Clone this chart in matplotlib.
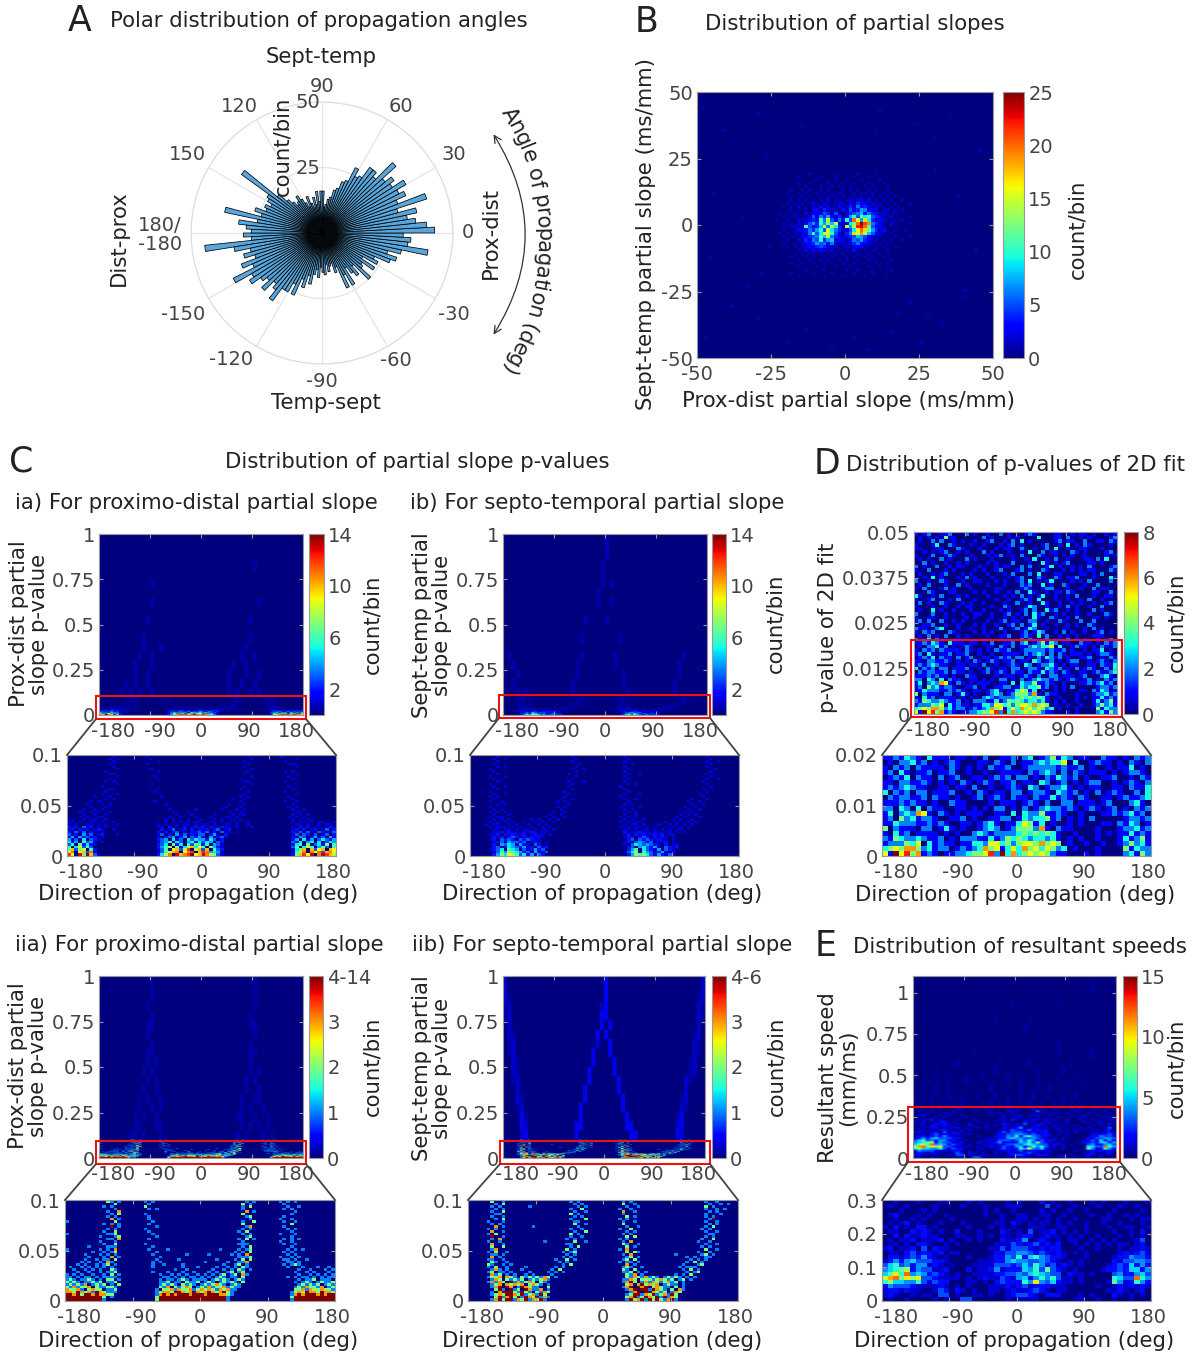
import numpy as np
import matplotlib
matplotlib.use('Agg')
import matplotlib.pyplot as plt
from matplotlib.patches import Rectangle, FancyArrowPatch
from matplotlib.textpath import TextToPath
from matplotlib.font_manager import FontProperties
from matplotlib.transforms import ScaledTranslation

W, H = 1199, 1355
FS = 15.3
TS = 14
GREY = '#444444'
TICK = '#999999'

# polar histogram, 3 deg bins from -180 to 180 (count/bin)
polar_counts = [30, 27, 45, 34, 28, 31, 27, 33, 29, 38,
                31, 33, 29, 27, 31, 26, 28, 32, 26, 26,
                22, 26, 19, 22, 17, 20, 16, 14, 17, 13,
                15, 16, 12, 15, 13, 12, 16, 14, 23, 18,
                23, 16, 19, 21, 17, 25, 20, 19, 24, 18,
                24, 22, 28, 30, 26, 31, 41, 33, 34, 31,
                43, 40, 36, 33, 37, 30, 42, 31, 35, 33,
                37, 32, 34, 31, 38, 29, 31, 31, 26, 25,
                28, 22, 21, 18, 17, 14, 13, 11, 10, 16,
                16, 12, 16, 11, 14, 10, 12, 15, 11, 13,
                15, 17, 15, 14, 16, 18, 22, 38, 25, 24,
                22, 24, 23, 27, 24, 38, 25, 32, 29, 27]

# panel B, central block of the slope histogram (base 36 digits, top row first)
slopes_centre = [
    "0000000000100000001000010000100000000000",
    "0000000100000100010000100010000100000000",
    "0000000000001000010010001000010000000000",
    "0000000100100001000100100010001000000000",
    "0000000001000100101001000101000100000000",
    "0000010010100101000101010010100100000000",
    "0000100101001010101100101101001010000000",
    "0000010010100101110101101011010101000000",
    "0000010101010102011012122120101010010000",
    "0000101010121021012203142312110101000100",
    "0001010201021312113124263431211010100000",
    "0000010101033142211315347632301201010000",
    "0010101102132354152024568364312101000000",
    "0001011010252647324127a5c9a5421120100100",
    "0100100212343a6f5363a5kf7h94232101010000",
    "0001010213574a7c8f3129ckplj6421021000100",
    "000101212b5348f6e941f7emnkb5331010100000",
    "0001001323647a5f9642259gkhc7423101001000",
    "00101011326a59ffa53146hfje85321010000000",
    "0001011033456b8e642234587532110101000100",
    "0000100214365a47823213657431201010010000",
    "0001001023347563621212463321010100000000",
    "0000101012324543120121233110101001000000",
    "0000000102132321201010310101100100000000",
    "0000001010110101010101011010010100000000",
    "0000010001010010110010100101001000000000",
    "0000000100100101001010010010100010000000",
    "0000010010010010100100101000100100000000",
    "0000000100001000010001000010010000000000",
    "0000000001000010000010010001000010000000",
    "0000010000010000100000100001000000000000",
    "0000000100000010000100000100000100000000"]
# single counts far from the centre
far_x = [-48, -41, -37, -30, -27, -44, -35, -26, 12, 24, 30, 35, 45, 28, 40, -46, -38, -30, -20, -13,
         -5, 3, 8, 18, 26, 33, 41, -40, -33, -28, 22, 31, 38, -47, 44, -15, 10, 15]
far_y = [44, 36, 30, 42, 25, 12, 3, -8, 43, 38, 33, 40, 28, -35, -27, -12, -31, -36, -44, -39,
         -46, -42, -47, -33, -44, -37, -25, 24, -23, -18, -29, 21, 11, -42, -10, 37, 35, -41]

# zoomed p-value histograms, 72 columns (5 deg), 40 rows (0.0025), top row first
ia_low = [
    "000000000000 100000000100 000000000000 000000000000 100000000100 000000000000",
    "000000000001 010000000010 000000000000 000000000000 010000000000 010000000000",
    "000000000000 100000000000 100000000000 000000000001 000000000010 000000000000",
    "000000000001 000000000100 000000000000 000000000000 100000000001 100000000000",
    "000000000000 100000000000 000000000000 000000000001 000000000000 010000000000",
    "000000000000 010000000010 000000000000 000000000000 010000000000 000000000000",
    "000000000010 000000000000 100000000000 000000000000 100000000010 100000000000",
    "000000000001 100000000000 000000000000 000000000001 000000000000 010000000000",
    "000000000000 010000000001 000000000000 000000000000 010000000001 000000000000",
    "000000000001 000000000000 100000000000 000000000010 000000000000 100000000000",
    "000000000010 100000000000 000000000000 000000000001 100000000010 000000000000",
    "000000000000 010000000010 000000000000 000000000000 010000000000 010000000000",
    "000000000100 000000000000 000000000000 000000000001 000000000001 000000000000",
    "000000000001 100000000000 100000000000 000000000010 000000000000 100000000000",
    "000000000010 000000000001 000000000000 000000000000 100000000010 000000000000",
    "000000000100 010000000000 000000000000 000000000001 000000000000 010000000000",
    "000000010001 000000000000 010000000000 000000000010 100000000001 000000000000",
    "000000000010 100000000000 000000000000 000000001001 000000000000 100000000000",
    "000000101000 000000000001 000000000000 000000000010 000000000010 010000000000",
    "000001000101 000000000000 001000000000 000000010001 000000000000 100000000000",
    "000000100010 000000000000 000000000000 000000100010 000000000001 010000000000",
    "000010010100 000000000000 000100000010 000001000101 000000000000 100100000000",
    "000100101001 000000000000 000010001000 000000010010 000000000000 011000000000",
    "000010010010 000000000000 000001000100 000100001011 000000000000 101010000000",
    "000101001100 000000000000 000100100010 001000110100 000000000001 010100000000",
    "010010110010 000000000000 001010001001 000101001010 000000000000 101011000000",
    "110100110100 100000000000 001010101011 001101010100 100000000000 101101011001",
    "101001101010 010000000000 101001011010 110100110100 100000000000 011010010110",
    "212031201010 000000000000 110201020121 202112110100 010000000000 102120110121",
    "120212012100 100000000000 020130120202 120230120000 000000000000 120201201302",
    "203130210100 000000000000 202023010123 130203110100 000000000000 213031032013",
    "312041301200 010000000000 130204130213 302410200000 000000000000 130320301302",
    "240423120100 000000000000 102340240324 204123100000 000000000000 204302413041",
    "413150321000 000000000000 234052305354 425302000000 000000000000 240514035314",
    "524063410100 000000000000 134605304625 354032000000 000000000000 325045150354",
    "360725210000 000000000000 235072506376 260431000000 000000000000 256070352706",
    "605836300000 000000000000 246807158a59 607421000000 000000000000 360586047306",
    "7a3780620000 000000000000 13609a38c08a 3a0632000000 000000000000 157a0a39a0a9",
    "8b09a3b10000 000000000000 1368ab09bc0a cb4541000000 000000000000 168b0b9b3ab9",
    "c90d7ea31000 000000000000 258b0dabce9a db8731000000 000000000000 27ac9d0bdca8"]
ib_low = [
    "000000010000 000000000000 000100000000 000001000000 000000000000 000100000000",
    "000000100100 000000000000 000010000000 000000100000 000000000000 000010000000",
    "000000010000 000000000000 000100000000 000001000000 000000000000 000100100000",
    "000000100000 000000000000 000001000000 000000010000 000000000000 000010000000",
    "000000010100 000000000000 000010000000 000001000000 000000000000 000100000000",
    "000001000000 000000000000 000100100000 000000100000 000000000000 000001000000",
    "000000100000 000000000000 000010000000 000001000000 000000000000 000010000000",
    "000000010000 000000000000 001000000000 000000100100 000000000000 000100000000",
    "000001000100 000000000000 000010000000 000001000000 000000000000 000010000000",
    "000000100000 000000000000 000100000000 000000100000 000000000000 000100100000",
    "000000010000 000000000000 001000100000 000001000000 000000000000 001000000000",
    "000001000000 000000000000 000100000000 000000101000 000000000000 000100000000",
    "000000100100 000000000000 001000000000 000010000000 000000000000 000010000000",
    "000000010000 000000000000 000100000000 000001000000 000000000000 001000000000",
    "000001000000 000000000000 010000000000 000000100000 000000000000 000100000000",
    "000000100100 000000000000 001000000000 000001000100 000000000000 010000000000",
    "000001010000 000000000000 010000000000 000010000000 000000000000 001000000000",
    "000000100000 000000000000 100100000000 000001001000 000000000001 000100000000",
    "000001001000 000000000001 010000000000 000000100000 000000000010 010000000000",
    "000000010100 000000000000 001000000000 000001010000 000000000001 001000000000",
    "000001000000 000000000001 010000000000 000010000100 000000000100 100000000000",
    "000000101000 000000000000 100000000000 000001010000 000000000010 010000000000",
    "000001010100 000000000010 010000000000 000000101000 000000000101 000000000000",
    "000000100010 000000000100 100000000000 000001001000 000000001010 100000000000",
    "000001011000 000000001010 010000000000 000010101000 000000010100 010000000000",
    "000000101010 000010100101 000000000000 000001010010 000000101001 000000000000",
    "000001010101 001001010010 000000000000 000010101100 000010010010 100000000000",
    "000010110010 100100101000 000000000000 000001011010 001001010101 000000000000",
    "000001011101 010010010100 000000000000 000010101101 010010101010 000000000000",
    "000000110110 101101011010 000000000000 000001101011 010101011000 000000000000",
    "000000112021 101121011000 000000000000 000002011211 011011010100 000000000000",
    "000001120212 112012110100 000000000000 000001202121 121201100000 000000000000",
    "000000212023 202121210000 000000000000 000001220232 021210100000 000000000000",
    "000001203232 032321100000 000000000000 000000230323 212110100000 000000000000",
    "000000123043 323012101000 000000000000 000001203432 301120100000 000000000000",
    "000000204354 142103201000 000000000000 000001035434 321020110000 000000000000",
    "000000230254 324120312000 000000000000 000000230453 241032120000 000000000000",
    "000001235065 403124230000 000000000000 000000246053 214032100000 000000000000",
    "000000136476 542304123000 000000000000 000001357064 312410200000 000000000000",
    "000000247598 635241320000 000000000000 000000247675 314213100000 000000000000"]
iia_low = [
    "000000000002 101000000101 000000000000 000000000000 101000000101 010000000000",
    "000000000000 020000000010 000000000000 000000000002 010000000010 000000000000",
    "000000000010 100000000200 000000000000 000000000001 020000000001 001000000000",
    "000000000000 010000000010 100000000000 000000000001 000000000010 100000000000",
    "000000000001 003000000000 000000000000 000000000000 301000000000 010000000000",
    "000000000000 102000000100 000000000000 000000000002 000000000000 100000000000",
    "000000000001 010000000010 000000000000 000000000000 120000000010 000000000000",
    "000000000000 301000000010 000000000000 000000000000 010000000100 100000000000",
    "100000000000 020000000001 000000000000 000000000001 002000000010 010000000000",
    "000000000010 101000000010 000000000000 000000000002 000000000000 200000000000",
    "000000000000 401000000000 100000000000 000000000000 130000000010 000000000000",
    "000000000001 010000000100 000000000000 000000000001 010000000001 010000000000",
    "000000000010 020000000010 000000000000 000000000010 200000000000 100000000000",
    "100000000001 120000000001 000000000000 000000000001 010000000100 010000000000",
    "000000000100 012000000000 100000000000 000000000000 120000000000 100000000000",
    "000000000001 103000000010 000000000000 000000000010 201000000010 101000000000",
    "000000000100 010000000000 000000000000 000000000001 000000000100 100000000000",
    "000000000010 020000000100 000000000000 000000000011 100000000010 010000000000",
    "000000100001 110000000001 000000000000 000000000001 020000000000 100000000000",
    "100000000101 030000000010 000100000000 000001000010 120000000001 010100000000",
    "000000010010 120000000000 100000000000 000000000101 020000000010 100000000000",
    "000001000101 010000000001 000000001000 001000001010 300000000001 010000000000",
    "000000100010 301000000000 010000000000 000000000011 120000000100 101000000000",
    "000001001011 020000000000 100000100000 000010000102 020000000011 010010000000",
    "000010100103 100000000001 010000000000 010000010011 300000000001 101000000000",
    "000101001012 010000000001 001000010000 000000100120 100000000010 121000000000",
    "010010101010 100000000001 000000010001 000010010102 100000000001 000100010010",
    "001001010100 210000000000 000001001000 000100101021 010000000000 001001000101",
    "000100100101 120000000001 000100010010 001010012012 000000000000 010010100010",
    "101010010010 201000000000 010010101001 010101201203 100000000000 001001010101",
    "110101101011 110000000000 001101010110 101012101102 000000000001 010110101011",
    "121011210102 201000000000 010110121011 110121210121 000000000000 001011201110",
    "212101121201 120000000000 011201102112 012101212102 000000000000 010121012112",
    "121213012120 102000000000 012121021210 121232101210 000000000000 001212120121",
    "213122302112 210000000000 021302123201 213122312110 000000000000 012132213012",
    "322310232201 120000000000 102231322312 323213231100 000000000000 022313223221",
    "332432314321 110000000000 123324432343 234323421000 000000000000 123243324332",
    "443524435332 200000000000 135343544354 435443321000 000000000000 134344435345",
    "554645546420 100000000000 245465546564 565645510000 000000000000 244564545646",
    "868a5978a510 000000000000 257a89a8a79a 8a9a77410000 000000000000 156a7898a879"]
iib_low = [
    "000000200100 000000000000 000101000000 000001010000 000000000000 000100100000",
    "000000010200 000000000000 000010100000 000002001000 000000000000 000010010100",
    "000000101000 000010000000 000001010000 000000100100 000000000000 000201000000",
    "000000010100 000000000000 000100200000 000010010000 000000000000 000100101000",
    "000000100200 000000000000 000010010000 000003001000 000000000000 000010100000",
    "000000011000 000000000000 000201000000 000001000000 000000000000 000100010000",
    "000000100100 000000000000 000010100000 000000201000 000000000000 000101000000",
    "000000010200 000000000000 000100020000 000010100000 000000000000 000014000000",
    "000001000100 000000000000 000011000000 000001001000 000000000000 000100100000",
    "000000101000 000000000000 000020010000 000002000000 000000000000 000010100000",
    "000000030100 000001000000 000001000000 000000100100 000000000000 000102000000",
    "000001010000 000000000000 000100100000 000010020000 000000000000 001010000000",
    "000000300100 000000000000 000010020000 000000101000 000000000000 000100100000",
    "000001020000 000000000000 000201000000 000001010000 000000000000 000011000000",
    "000000400100 000000000000 000100100000 000000202000 000000000000 000101000000",
    "000000103000 000000000000 001010000000 000010100000 000000000000 001002000000",
    "000001001000 000000001000 000020010000 000001030000 000000000000 010010000000",
    "000000300100 000000000000 001100000000 000002100100 000000000000 000100100000",
    "000000200200 000000000000 000102000000 000000201000 000000000000 001010000000",
    "000000130000 000000000000 002010000000 000010300000 000000000000 000200100000",
    "000001020010 000000000000 010120000000 000000202100 000000000000 010010000000",
    "000000110100 000000000000 001010000000 000001030000 000000010000 001201000000",
    "000000301000 000000000000 010100000000 000000120100 000000000010 100110000000",
    "000001100100 000000000001 002010000000 000001202000 000000000001 010100000000",
    "000000210010 000000000000 101000000000 000010110100 000000000010 201000000000",
    "000002100101 000000000000 010200000000 000000301000 000000000100 012000000000",
    "000001020010 000100000001 010000000000 000001210010 000000001011 100000000000",
    "000000131010 001000000010 200000000000 000002102000 000000000102 010000000000",
    "000001201101 000010000101 010000000000 000001120101 000000000010 120000000000",
    "000000312010 100101000010 000000000000 000000213010 000000010102 000000000000",
    "000001223032 102121213201 000000000000 000000213213 121012121010 100000000000",
    "000000132021 212012123100 000000000000 000001132022 212321201201 000000000000",
    "000001313204 131232021000 000000000000 000001342013 132123120100 000000000000",
    "000000123032 323023210100 000000000000 000000230342 323012110100 000000000000",
    "000000134043 014321100200 000000000000 000001340434 023211020100 000000000000",
    "000000024106 120531130100 000000000000 000000135054 143210203100 000000000000",
    "000000103464 214210213200 000000000000 000000013504 432120132000 000000000000",
    "000000123254 324123142000 000000000000 000000124513 241231420000 000000000000",
    "000000025134 251432513100 000000000000 000000235124 325141320000 000000000000",
    "000000134265 132513241000 000000000000 000000142351 425213410000 000000000000"]

# p-value 0.1 to 1, 48 columns, 18 rows, relative strength of the faint traces, top row first
ia_high = ["", "", "", "0000000000000000000000000000000000002", "", "0000000000002", "",
           "00000000000020000000000000000000000002", "", "000000000002000000000000000000000002", "",
           "0000000000200000000000000000000000020", "00000000002000200000000000000000002",
           "000000000200200000000000000000000200200", "0000000020002000000000000000000200200",
           "00000000200200000000000000000020002002", "000000202002000000000000000000200200200",
           "00000202020020000000000000000020200202"]
ib_high = ["000000000000000000000000200", "000000000000000000000000300", "000000000000000000000000200",
           "000000000000000000000002", "0000000000000000000000020", "000000000000000000000002020",
           "00000000000000000000002", "0000000000000000000000200200", "", "000000000000000000020000200", "",
           "0000000000000000002000000002", "", "0200000000000000002000000020000000000000002",
           "0020000000000000020000000020000000000000020", "00020000000000000200000000002000000000000200",
           "00200000000000002000000000002000000000002", "00020200000000002000000000000200000000002"]
iia_high = [
    "000000000000100000000000000000000000100000000000",
    "000000000000100000000000000000000000100000000000",
    "000000000000100000000000000000000000100000000000",
    "000000000001000000000000000000000000100000000000",
    "000000000000100000000000000000000001000000000000",
    "000000000001100000000000000000000001100000000000",
    "000000000001000000000000000000000000100000000000",
    "000000000000100000000000000000000001000000000000",
    "000000000001100000000000000000000001100000000000",
    "000000000001010000000000000000000001000000000000",
    "000000000010100000000000000000000001010000000000",
    "000000000001010000000000000000000010100000000000",
    "000000000010010000000000000000000010010000000000",
    "000000000101001000000000000000000100110000000000",
    "000000000100101000000000000000000101001000000000",
    "000000001010010000000000000000001100100100000000",
    "000000001100011000000000000000000101010100000000",
    "000000011010001000000000000000001010001010000000"]
iib_high = [
    "200000000000000000000000400000000000000000000002",
    "200000000000000000000000400000000000000000000002",
    "210000000000000000000000400000000000000000000012",
    "120000000000000000000002300000000000000000000021",
    "120000000000000000000003300000000000000000000021",
    "020000000000000000000003030000000000000000000020",
    "021000000000000000000030300000000000000000000120",
    "012000000000000000000020030000000000000000000210",
    "012000000000000000000300030000000000000000000210",
    "002100000000000000000300003000000000000000001200",
    "002100000000000000003000003000000000000000001200",
    "001200000000000000003000000300000000000000021000",
    "000200000000000000030000000300000000000000020000",
    "000210000000000000030000000030000000000000120000",
    "000120000000000000300000000030000000000000210000",
    "000031000000000000300000000003000000000001300000",
    "000032000000000003300000000003300000000002300000",
    "000023000000000003000000000000330000000003200000"]

# panel D, p < 0.02 and 0.02 to 0.05, top row first
d_low = [
    "112132103111011010200112023012413201100211010212",
    "010223120101210001102102011232335030012110102102",
    "102120211110210101021120012222212112010010113010",
    "120310112011200100100111102123202021011101012210",
    "012130211020120011012120220102132120100112001021",
    "110221121010102101210112011032012010122001012102",
    "121232110011011020010012103201223101011001102113",
    "302120220111200102101102201221032120102012100203",
    "021221120211010012012102110211312102100110121123",
    "111212110100211000010111012102002201110120002310",
    "220320302110011010102201020123221210121012010212",
    "130232651021010111001103032241121001000112123120",
    "120423122100112010011220132334120101020000012212",
    "113222112121001101231011354130100101000110213201",
    "402111022013101001232012444261021100001000122312",
    "103120111101010023212222343434310010001010113121",
    "214322321120102221131243432332310101001000131241",
    "122243503121101133255342455464540100100100124231",
    "345466423122012123645135364535423010001000041322",
    "518574612101122344572836345454211000101000023142"]
d_high = [
    "101200112000201001002010001210000110010110100101",
    "010101041100000020100010100003000110200101000012",
    "010020200101001001200102030100000120110020011021",
    "100013002100010010001012010000120010301021000010",
    "110001100021000100010110020010020300100110001000",
    "001010120010100020100010010300201100021010000120",
    "100020012100010001012001020002100101010010000101",
    "010100201000201000100001001030010200100011020300",
    "002010010010100001010002000100310101200001101000",
    "201002001011000100010110020200013010010102000012",
    "100200010100001010012000120100210001010101100021",
    "010010120001010001000102000203000110000110102000",
    "001030100010201000100010120002100210112000100031",
    "200100210001001100010100120301013000010102000020",
    "010200010020100001000100021200301002100010020000",
    "102000120100010000011000012100122000100100201100",
    "000210001100001010010010200310010110210000110020",
    "310010200010100001000101020101300100102000100110",
    "100120001020001000010010012103000100100102001000",
    "020100210001010010000100200100310010010100100120",
    "100010010010110000100210001320010010201001002000",
    "010030100100010010001010012020031200101000201000",
    "200020010001001100100120102031200101001001000210",
    "100110010000101000100101010031002100102000110100",
    "120200200101000001001201100220010021000200200000",
    "001120010010001010010012020130100100101002100000",
    "211002300010010010002001201320010001100010201000",
    "102120002100001010100100012013200102010010012010",
    "010201020010100001001120012103020010101000111000",
    "201302010010100010001010020210120110201010010120"]

# panel E, speed below 0.3 (24 rows) and above it (16 rows), top row first
e_low = [
    "001000100011000101000010100020100100010100010001",
    "010010000100001000100011100003010010001000100100",
    "000100010100000000101001000010100100100001000010",
    "012000101001000000100100110011001000010010010100",
    "001001010000100000000100110101010010000110001011",
    "010120100010001000001102101011010100100100100010",
    "102010220100000100010101001110011000100010011001",
    "011002121010020001000210103011201010100001001020",
    "002021121100011001010110122012110101001000101010",
    "010112011120100101000211240121010110010101000130",
    "011010221001010000001113212312120010101010110120",
    "120112030211000000011313332121220001001000101121",
    "011023122120110000002133443232121010100000121231",
    "022123242101000100012243625643221000100001224332",
    "124245333221000001112245443343210101000002133443",
    "356342441210100011113332353642312101000012325242",
    "456782433112000201124122254637321010000122325524",
    "57a6c4542321010011112233435654330211010003422453",
    "9bc7a8a33211110101211321452464631101000006533c64",
    "685544631322000110102322264a43521101000017412642",
    "243332111121010100011121231222111000001001212121",
    "122121100132021010011012112321011000000011210120",
    "121001011033010011010012332102220001010002101010",
    "010010000101003300000010111100000011001001001000"]
e_high = ["", "0000000000000000000000000000000000000000002", "", "00000000000000000000000100000000001", "",
          "0000000000000000000100000001", "000000000000000000000000002", "", "00000000000000000000000000000000002",
          "0000000000000010000000000000000000100000002", "00000000002000000000100000020000000001",
          "00000100000000000002000000000100000200", "0001000010002000100000200100010000100010",
          "00100200100001000020010002000100200010001", "0100100020010001000200100100200100010020",
          "1010201001020100102010200102001001020101"]

x_tick_vals = [-180, -90, 0, 90, 180]
x_tick_labels = ['-180', '-90', '0', '90', '180']


def to_grid(rows, ncols=48):
    # rows come top first, imshow wants lowest row first
    rows = [r.replace(' ', '') for r in rows[::-1]]
    return np.array([[int(c, 36) for c in r.ljust(ncols, '0')[:ncols]] for r in rows], dtype=float)


def stack_p(low, high, divisor):
    # fine low part under coarse high part, on one common grid
    fine = np.repeat(to_grid(low, 72), 2, axis=1)
    coarse = np.repeat(np.repeat(to_grid(high, 48), 3, axis=1), 20, axis=0) / divisor
    return np.vstack([fine, coarse])


fig = plt.figure(figsize=(W / 100, H / 100), dpi=100)


def px_axes(x0, y0, x1, y1, **kw):
    return fig.add_axes([x0 / W, 1 - y1 / H, (x1 - x0) / W, (y1 - y0) / H], **kw)


def label(x, y, s, size=FS, rot=0, color='#222222', **kw):
    return fig.text(x / W, 1 - y / H, s, fontsize=size, rotation=rot, color=color,
                    ha=kw.pop('ha', 'center'), va=kw.pop('va', 'center'), linespacing=1.0, **kw)


def style(ax):
    ax.tick_params(direction='in', length=3, width=0.8, color=TICK, top=True, right=True,
                   labelsize=TS, labelcolor=GREY, pad=3)
    ax.tick_params(axis='x', pad=5)
    for s in ax.spines.values():
        s.set_color(TICK)
        s.set_linewidth(0.8)


def shift_x_labels(ax, offsets):
    for lab, dx in zip(ax.get_xticklabels(), offsets):
        lab.set_transform(lab.get_transform() + ScaledTranslation(dx / 72, 0, fig.dpi_scale_trans))


def heat(box, grid, y_max, vmax, yticks, ylabels, offsets=(10, 7, 0, -2, -5), interp='auto'):
    ax = px_axes(*box)
    im = ax.imshow(grid, origin='lower', aspect='auto', cmap='jet', vmin=0, vmax=vmax,
                   extent=[-180, 180, 0, y_max], interpolation=interp)
    ax.set_xticks(x_tick_vals, x_tick_labels)
    ax.set_yticks(yticks, ylabels)
    style(ax)
    shift_x_labels(ax, offsets)
    return im


def cbar(box, im, ticks, labels):
    cax = px_axes(*box)
    cb = fig.colorbar(im, cax=cax)
    cb.set_ticks(ticks, labels=labels)
    cax.tick_params(length=0, labelsize=TS, labelcolor=GREY, pad=3)
    cb.outline.set_edgecolor(TICK)
    cb.outline.set_linewidth(0.8)


# panel A
ax = px_axes(191, 102, 453, 364, projection='polar')
theta = np.deg2rad(np.arange(-178.5, 180, 3))
ax.bar(theta, polar_counts, width=np.deg2rad(3), color='#58a6dc', edgecolor='black', linewidth=0.55, zorder=3)
ax.set_rlim(0, 50)
ax.set_rticks([25, 50], ['', ''])
ax.set_thetagrids(np.arange(0, 360, 30), [''] * 12)
ax.grid(color='#e4e4e4', linewidth=0.9)
ax.spines['polar'].set_color('#dddddd')
ax.tick_params(length=0)

polar_labels = {'90': (322, 86), '120': (239, 106), '60': (401, 106), '150': (187, 154), '30': (454, 155),
                '180/\n-180': (160, 235), '0': (468, 233), '-150': (183, 314), '-30': (454, 314),
                '-120': (231, 360), '-60': (396, 361), '-90': (322, 382), '50': (308, 103), '25': (308, 169)}
for s, (x, y) in polar_labels.items():
    label(x, y, s, size=TS, color=GREY)
label(321, 57, 'Sept-temp')
label(326, 403, 'Temp-sept')
label(119, 238, 'Dist-prox', rot=90)
label(491, 233, 'Prox-dist', rot=90)
label(282, 146, 'count/bin', rot=90)

# text bent along the arrow, one glyph at a time on a wide circle
curve = 'Angle of propagation (deg)'
prop = FontProperties(size=FS)
ttp = TextToPath()
total = ttp.get_text_width_height_descent(curve, prop, False)[0]
for i, ch in enumerate(curve):
    start = ttp.get_text_width_height_descent(curve[:i], prop, False)[0] if i else 0
    end = ttp.get_text_width_height_descent(curve[:i + 1], prop, False)[0]
    ang = 31.6 - 63.2 * ((start + end) / 2 / total)
    x = 292 + 245 * np.cos(np.deg2rad(ang))
    y = 241 - 245 * np.sin(np.deg2rad(ang))
    label(x, y, ch, rot=ang - 90, rotation_mode='anchor', va='baseline')

# panel B
slopes = np.zeros((80, 80))
slopes[24:56, 20:60] = to_grid(slopes_centre, 40)
np.add.at(slopes, (((np.array(far_y) + 50) / 1.25).astype(int), ((np.array(far_x) + 50) / 1.25).astype(int)), 1)
ax = px_axes(697, 92, 993, 358)
im = ax.imshow(slopes, origin='lower', aspect='auto', cmap='jet', vmin=0, vmax=25, extent=[-50, 50, -50, 50],
               interpolation='nearest')
ax.set_xticks([-50, -25, 0, 25, 50], ['-50', '-25', '0', '25', '50'])
ax.set_yticks([-50, -25, 0, 25, 50], ['-50', '-25', '0', '25', '50'])
style(ax)
cbar((1003, 92, 1024, 358), im, [0, 5, 10, 15, 20, 25], ['0', '5', '10', '15', '20', '25'])
label(646, 234, 'Sept-temp partial slope (ms/mm)', rot=90)
label(848, 401, 'Prox-dist partial slope (ms/mm)')
label(1077, 229, 'count/bin', rot=90)

# panels C
zoom_off = (10, 6, 0, 0, -2)
p_ticks = [0, 0.25, 0.5, 0.75, 1]
p_labels = ['0', '0.25', '0.5', '0.75', '1']
z_ticks = [0, 0.05, 0.1]
z_labels = ['0', '0.05', '0.1']

im = heat((99, 534, 303, 715), stack_p(ia_low, ia_high, 4), 1, 14, p_ticks, p_labels)
cbar((309, 534, 324, 715), im, [2, 6, 10, 14], ['2', '6', '10', '14'])
heat((67, 755, 336, 856), to_grid(ia_low, 72), 0.1, 14, z_ticks, z_labels, zoom_off, 'nearest')

im = heat((503, 534, 707, 715), stack_p(ib_low, ib_high, 4), 1, 14, p_ticks, p_labels)
cbar((712, 534, 726, 715), im, [2, 6, 10, 14], ['2', '6', '10', '14'])
heat((470, 755, 739, 856), to_grid(ib_low, 72), 0.1, 14, z_ticks, z_labels, zoom_off, 'nearest')

im = heat((99, 976, 303, 1158), stack_p(iia_low, iia_high, 8), 1, 4, p_ticks, p_labels)
cbar((309, 976, 323, 1158), im, [0, 1, 2, 3, 4], ['0', '1', '2', '3', '4-14'])
heat((65, 1200, 335, 1301), to_grid(iia_low, 72), 0.1, 4, z_ticks, z_labels, zoom_off, 'nearest')

im = heat((503, 976, 705, 1158), stack_p(iib_low, iib_high, 8), 1, 4, p_ticks, p_labels)
cbar((712, 976, 726, 1158), im, [0, 1, 2, 3, 4], ['0', '1', '2', '3', '4-6'])
heat((468, 1200, 738, 1301), to_grid(iib_low, 72), 0.1, 4, z_ticks, z_labels, zoom_off, 'nearest')

# panel D
im = heat((914, 532, 1117, 714), np.vstack([to_grid(d_low), to_grid(d_high)]), 0.05, 8,
          [0, 0.0125, 0.025, 0.0375, 0.05], ['0', '0.0125', '0.025', '0.0375', '0.05'], interp='nearest')
cbar((1124, 532, 1138, 714), im, [0, 2, 4, 6, 8], ['0', '2', '4', '6', '8'])
heat((882, 755, 1151, 856), to_grid(d_low), 0.02, 8, [0, 0.01, 0.02], ['0', '0.01', '0.02'], zoom_off, 'nearest')

# panel E
e_all = np.vstack([to_grid(e_low), np.repeat(to_grid(e_high), 4, axis=0) / 4])
im = heat((913, 976, 1116, 1158), e_all, 1.1, 15, p_ticks, p_labels)
cbar((1123, 976, 1137, 1158), im, [0, 5, 10, 15], ['0', '5', '10', '15'])
heat((882, 1200, 1151, 1301), to_grid(e_low), 0.3, 15, [0, 0.1, 0.2, 0.3], ['0', '0.1', '0.2', '0.3'], zoom_off, 'nearest')

# axis names
for x, y in [(198, 894), (602, 894), (1015, 895), (198, 1341), (602, 1341), (1014, 1341)]:
    label(x, y, 'Direction of propagation (deg)')
for x, y in [(372, 624), (775, 623), (1176, 622), (372, 1066), (776, 1066), (1176, 1068)]:
    label(x, y, 'count/bin', rot=90)
label(29, 624, 'Prox-dist partial\nslope p-value', rot=90)
label(432, 625, 'Sept-temp partial\nslope p-value', rot=90)
label(28, 1066, 'Prox-dist partial\nslope p-value', rot=90)
label(432, 1068, 'Sept-temp partial\nslope p-value', rot=90)
label(828, 628, 'p-value of 2D fit', rot=90)
label(838, 1078, 'Resultant speed\n(mm/ms)', rot=90)

# titles and panel letters
label(319, 21, 'Polar distribution of propagation angles')
label(855, 24, 'Distribution of partial slopes')
label(417, 462, 'Distribution of partial slope p-values')
label(196, 503, 'ia) For proximo-distal partial slope')
label(597, 503, 'ib) For septo-temporal partial slope')
label(1016, 465, 'Distribution of p-values of 2D fit')
label(199, 945, 'iia) For proximo-distal partial slope')
label(602, 945, 'iib) For septo-temporal partial slope')
label(1020, 947, 'Distribution of resultant speeds')
for s, x, y in [('A', 80, 21), ('B', 647, 22), ('C', 21, 461), ('D', 827, 464), ('E', 826, 946)]:
    label(x, y, s, size=25)

# overlay in pixel coordinates for the red boxes, zoom lines and the arrow
over = fig.add_axes([0, 0, 1, 1], facecolor='none', zorder=5)
over.set_xlim(0, W)
over.set_ylim(H, 0)
over.axis('off')
red_boxes = [(96, 696, 306, 719), (499, 695, 710, 718), (96, 1141, 306, 1164), (500, 1141, 710, 1164),
             (911, 640, 1122, 717), (908, 1107, 1120, 1162)]
zoom_boxes = [(67, 755, 336), (470, 755, 739), (65, 1200, 335), (468, 1200, 738), (882, 755, 1151), (882, 1200, 1151)]
for (x0, y0, x1, y1), (zx0, zy, zx1) in zip(red_boxes, zoom_boxes):
    over.add_patch(Rectangle((x0, y0), x1 - x0, y1 - y0, fill=False, edgecolor='#ee1111', linewidth=1.5))
    over.plot([x0, zx0], [y1, zy], color='#444444', lw=1.3)
    over.plot([x1, zx1], [y1, zy], color='#444444', lw=1.3)
over.add_patch(FancyArrowPatch((492, 132), (492, 337), connectionstyle='arc3,rad=-0.32', arrowstyle='<->',
                               mutation_scale=13, lw=0.9, color='#333333'))

fig.savefig('out.png', dpi=100)
